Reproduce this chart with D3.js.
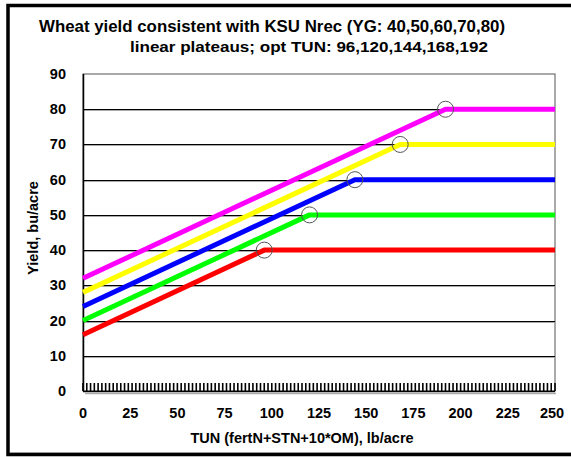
<!DOCTYPE html>
<html>
<head>
<meta charset="utf-8">
<script src="https://cdn.jsdelivr.net/npm/d3@7"></script>
<style>
  body { margin: 0; background: #fff; }
  svg { display: block; font-family: "Liberation Sans", Arial, sans-serif; font-weight: bold; }
</style>
</head>
<body>
<div id="chart"></div>
<script>
// yield goals, intercepts (yield at TUN=0) and optimum TUN for each line
const yieldGoals = [40, 50, 60, 70, 80];
const intercepts = [16, 20, 24, 28, 32];
const optTUN = [96, 120, 144, 168, 192];
const lineColors = ["#ff0000", "#00ff00", "#0000ff", "#ffff00", "#ff00ff"];
const yTicks = [0, 10, 20, 30, 40, 50, 60, 70, 80, 90];
const xTicks = [0, 25, 50, 75, 100, 125, 150, 175, 200, 225, 250];
const xMax = 250;
// dense marker series sitting on y = 0
const zeroMarks = d3.range(0, 251, 2);

const width = 571, height = 457;
const plot = { left: 83, right: 555, top: 74, bottom: 391 };

const svg = d3.select("#chart").append("svg")
    .attr("width", width)
    .attr("height", height);

const x = d3.scaleLinear().domain([0, 250]).range([plot.left, plot.right]);
const y = d3.scaleLinear().domain([0, 90]).range([plot.bottom, plot.top]);

// outer frame (right edge falls off the picture)
svg.append("rect")
    .attr("x", 8).attr("y", 5.5)
    .attr("width", 600).attr("height", 449)
    .attr("fill", "none")
    .attr("stroke", "#000")
    .attr("stroke-width", 3.5);
svg.append("line")
    .attr("x1", 10).attr("x2", 571)
    .attr("y1", 452.5).attr("y2", 452.5)
    .attr("stroke", "#999");

// titles
svg.append("text")
    .attr("x", 272).attr("y", 32)
    .attr("text-anchor", "middle")
    .attr("font-size", 17)
    .attr("textLength", 466)
    .attr("lengthAdjust", "spacingAndGlyphs")
    .text("Wheat yield consistent with KSU Nrec (YG: 40,50,60,70,80)");
svg.append("text")
    .attr("x", 309).attr("y", 52)
    .attr("text-anchor", "middle")
    .attr("font-size", 15)
    .attr("textLength", 358)
    .attr("lengthAdjust", "spacingAndGlyphs")
    .text("linear plateaus; opt TUN: 96,120,144,168,192");

// plot box
svg.append("rect")
    .attr("x", plot.left).attr("y", plot.top)
    .attr("width", plot.right - plot.left)
    .attr("height", plot.bottom - plot.top)
    .attr("fill", "#fff")
    .attr("stroke", "#555")
    .attr("stroke-width", 1);

// gridlines
const grid = svg.append("g");
grid.selectAll("line.sh")
    .data(yTicks.filter(d => d > 0 && d < 90))
    .enter().append("line")
    .attr("class", "sh")
    .attr("x1", plot.left).attr("x2", plot.right)
    .attr("y1", d => Math.round(y(d)) + 1.5)
    .attr("y2", d => Math.round(y(d)) + 1.5)
    .attr("stroke", "#aaa");
grid.selectAll("line.gl")
    .data(yTicks.filter(d => d > 0 && d < 90))
    .enter().append("line")
    .attr("class", "gl")
    .attr("x1", plot.left).attr("x2", plot.right)
    .attr("y1", d => Math.round(y(d)) + 0.5)
    .attr("y2", d => Math.round(y(d)) + 0.5)
    .attr("stroke", "#000");

// axes lines
svg.append("line")
    .attr("x1", plot.left + 0.5).attr("x2", plot.left + 0.5)
    .attr("y1", plot.top).attr("y2", plot.bottom)
    .attr("stroke", "#000").attr("stroke-width", 1.5);
svg.append("line")
    .attr("x1", plot.left).attr("x2", plot.right)
    .attr("y1", plot.bottom + 0.5).attr("y2", plot.bottom + 0.5)
    .attr("stroke", "#000").attr("stroke-width", 1.5);
svg.append("line")
    .attr("x1", plot.left + 2).attr("x2", plot.right + 1)
    .attr("y1", plot.bottom + 2.5).attr("y2", plot.bottom + 2.5)
    .attr("stroke", "#aaa").attr("stroke-width", 1.5);

// zero markers
svg.append("g").selectAll("line")
    .data(zeroMarks)
    .enter().append("line")
    .attr("x1", d => x(d)).attr("x2", d => x(d))
    .attr("y1", y(0) - 8).attr("y2", y(0))
    .attr("stroke", "#000")
    .attr("stroke-width", 1.6);

// linear plateau lines
const line = d3.line().x(d => x(d[0])).y(d => y(d[1]));
yieldGoals.forEach((yg, i) => {
    const pts = [[0, intercepts[i]], [optTUN[i], yg], [xMax, yg]];
    svg.append("path")
        .datum(pts)
        .attr("d", line)
        .attr("fill", "none")
        .attr("stroke", lineColors[i])
        .attr("stroke-width", 5)
        .attr("stroke-linejoin", "round");
});

// break-point circles
svg.append("g").selectAll("circle")
    .data(yieldGoals)
    .enter().append("circle")
    .attr("cx", (d, i) => x(optTUN[i]))
    .attr("cy", d => y(d))
    .attr("r", 8)
    .attr("fill", "none")
    .attr("stroke", "#555")
    .attr("stroke-width", 1);

// tick labels
svg.append("g").selectAll("text")
    .data(yTicks)
    .enter().append("text")
    .attr("x", 66)
    .attr("y", d => y(d) + 5)
    .attr("text-anchor", "end")
    .attr("font-size", 14.5)
    .text(d => d);
svg.append("g").selectAll("text")
    .data(xTicks)
    .enter().append("text")
    .attr("x", d => x(d) - (d === 250 ? 3 : 0))
    .attr("y", 418)
    .attr("text-anchor", "middle")
    .attr("font-size", 14.5)
    .text(d => d);

// axis titles
svg.append("text")
    .attr("x", 302).attr("y", 443)
    .attr("text-anchor", "middle")
    .attr("font-size", 14.5)
    .text("TUN (fertN+STN+10*OM), lb/acre");
svg.append("text")
    .attr("transform", "translate(38,228) rotate(-90)")
    .attr("text-anchor", "middle")
    .attr("font-size", 14.5)
    .text("Yield, bu/acre");
</script>
</body>
</html>
